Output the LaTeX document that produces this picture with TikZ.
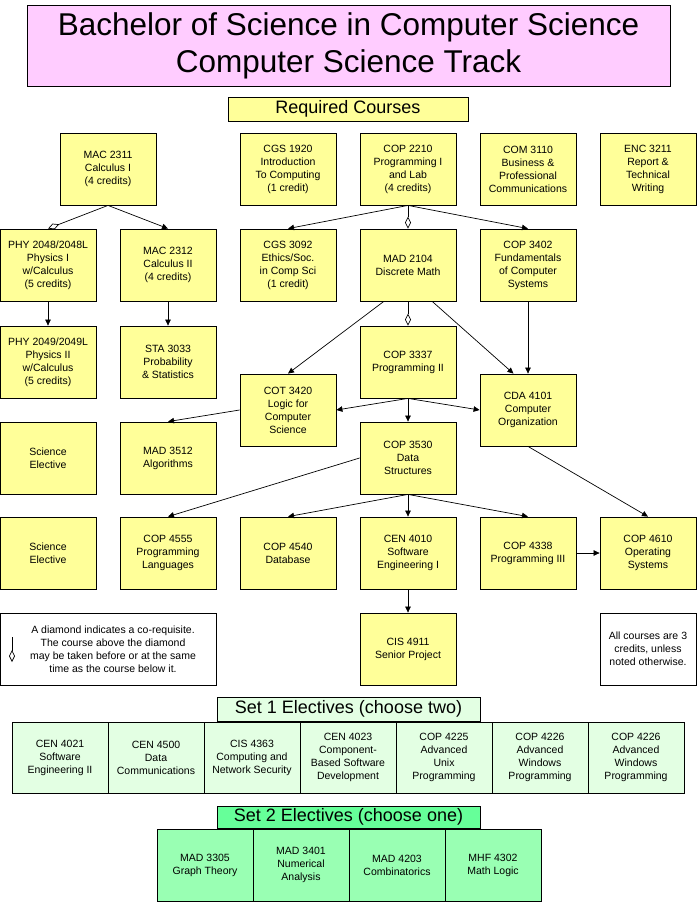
\documentclass[tikz,border=0pt]{standalone}
\usepackage{fontspec}
\setmainfont{Liberation Sans}
\usetikzlibrary{arrows.meta,calc}
\definecolor{titlepink}{HTML}{FFCCFF}
\definecolor{courseyellow}{HTML}{FFFF99}
\definecolor{setonegreen}{HTML}{E3FFE3}
\definecolor{settwogreen}{HTML}{99FFB3}
\definecolor{settwohead}{HTML}{66FF99}
\tikzset{
  course/.style={rectangle, draw=black, line width=0.8pt, fill=courseyellow, minimum width=96pt, minimum height=72pt, inner sep=0pt, align=center, font=\fontsize{10.5}{13}\selectfont},
  notebox/.style={rectangle, draw=black, line width=0.8pt, fill=white, minimum height=72pt, inner sep=0pt, align=center, font=\fontsize{10.5}{13}\selectfont},
  elecone/.style={course, fill=setonegreen, minimum height=71pt},
  electwo/.style={course, fill=settwogreen},
  header/.style={rectangle, draw=black, line width=0.8pt, inner sep=0pt, align=center, font=\fontsize{18}{20}\selectfont},
  prereq/.style={line width=0.7pt, -{Triangle[length=6pt,width=5.5pt]}},
  coreq/.style={line width=0.7pt, -{Diamond[fill=white,length=12pt,width=6pt]}},
}
\begin{document}
\begin{tikzpicture}[x=1pt,y=-1pt]
\useasboundingbox (0,0) rectangle (697,902);
% title
\node[rectangle, draw=black, line width=0.8pt, fill=titlepink, minimum width=643pt, minimum height=81pt, inner sep=0pt, align=center, font=\fontsize{31.5}{37}\selectfont] (title) at (348.5,45.5) {Bachelor of Science in Computer Science\\Computer Science Track};
\node[header, fill=courseyellow, minimum width=240pt, minimum height=24pt] (req) at (348,109) {Required Courses};
% row 1
\node[course] (mac2311) at (108,169) {MAC 2311\\Calculus I\\(4 credits)};
\node[course] (cgs1920) at (288,169) {CGS 1920\\Introduction\\To Computing\\(1 credit)};
\node[course] (cop2210) at (408,169) {COP 2210\\Programming I\\and Lab\\(4 credits)};
\node[course] (com3110) at (528,169) {COM 3110\\Business \&\\Professional\\Communications};
\node[course] (enc3211) at (648,169) {ENC 3211\\Report \&\\Technical\\Writing};
% row 2
\node[course] (phy2048) at (48,265) {PHY 2048/2048L\\Physics I\\w/Calculus\\(5 credits)};
\node[course] (mac2312) at (168,265) {MAC 2312\\Calculus II\\(4 credits)};
\node[course] (cgs3092) at (288,265) {CGS 3092\\Ethics/Soc.\\in Comp Sci\\(1 credit)};
\node[course] (mad2104) at (408,265) {MAD 2104\\Discrete Math};
\node[course] (cop3402) at (528,265) {COP 3402\\Fundamentals\\of Computer\\Systems};
% row 3
\node[course] (phy2049) at (48,362) {PHY 2049/2049L\\Physics II\\w/Calculus\\(5 credits)};
\node[course] (sta3033) at (168,362) {STA 3033\\Probability\\\& Statistics};
\node[course] (cop3337) at (408,362) {COP 3337\\Programming II};
\node[course] (cot3420) at (288,410) {COT 3420\\Logic for\\Computer\\Science};
\node[course] (cda4101) at (528,410) {CDA 4101\\Computer\\Organization};
% row 4
\node[course] (scielecA) at (48,458) {Science\\Elective};
\node[course] (mad3512) at (168,458) {MAD 3512\\Algorithms};
\node[course] (cop3530) at (408,458) {COP 3530\\Data\\Structures};
% row 5
\node[course] (scielecB) at (48,553) {Science\\Elective};
\node[course] (cop4555) at (168,553) {COP 4555\\Programming\\Languages};
\node[course] (cop4540) at (288,553) {COP 4540\\Database};
\node[course] (cen4010) at (408,553) {CEN 4010\\Software\\Engineering I};
\node[course] (cop4338) at (528,553) {COP 4338\\Programming III};
\node[course] (cop4610) at (648,553) {COP 4610\\Operating\\Systems};
% row 6
\node[notebox, minimum width=216pt] (legend) at (108,649) {};
\node[font=\fontsize{10.5}{13}\selectfont, align=center, inner sep=0pt] (legendtext) at (113,649) {A diamond indicates a co-requisite.\\The course above the diamond\\may be taken before or at the same\\time as the course below it.};
\coordinate (lgA) at (12,637);
\coordinate (lgB) at (12,662);
\draw[coreq] (lgA) -- (lgB);
\node[course] (cis4911) at (408,649) {CIS 4911\\Senior Project};
\node[notebox, minimum width=96pt] (allc) at (648,649) {All courses are 3\\credits, unless\\noted otherwise.};
% connectors
\draw[coreq] (mac2311.south) -- (phy2048.north);
\draw[prereq] (mac2311.south) -- (mac2312.north);
\draw[prereq] (cop2210.south) -- (cgs3092.north);
\draw[coreq] (cop2210.south) -- (mad2104.north);
\draw[prereq] (cop2210.south) -- (cop3402.north);
\draw[prereq] (phy2048.south) -- (phy2049.north);
\draw[prereq] (mac2312.south) -- (sta3033.north);
\draw[coreq] (mad2104.south) -- (cop3337.north);
\draw[prereq] ($(mad2104.south west)!0.25!(mad2104.south east)$) -- (cot3420.north);
\draw[prereq] ($(mad2104.south west)!0.75!(mad2104.south east)$) -- ($(cda4101.north west)!0.35!(cda4101.north east)$);
\draw[prereq] (cop3402.south) -- (cda4101.north);
\draw[prereq] (cop3337.south) -- (cot3420.east);
\draw[prereq] (cop3337.south) -- (cda4101.west);
\draw[prereq] (cop3337.south) -- (cop3530.north);
\draw[prereq] (cot3420.west) -- (mad3512.north);
\draw[prereq] (cop3530.west) -- (cop4555.north);
\draw[prereq] (cop3530.south) -- (cop4540.north);
\draw[prereq] (cop3530.south) -- (cen4010.north);
\draw[prereq] (cop3530.south) -- (cop4338.north);
\draw[prereq] (cda4101.south) -- (cop4610.north);
\draw[prereq] (cop4338.east) -- (cop4610.west);
\draw[prereq] (cen4010.south) -- (cis4911.north);
% set 1 electives
\node[header, fill=setonegreen, minimum width=263pt, minimum height=24pt] (setone) at (348.5,709) {Set 1 Electives (choose two)};
\node[elecone] (cen4021) at (60,757.5) {CEN 4021\\Software\\Engineering II};
\node[elecone] (cen4500) at (156,757.5) {CEN 4500\\Data\\Communications};
\node[elecone] (cis4363) at (252,757.5) {CIS 4363\\Computing and\\Network Security};
\node[elecone] (cen4023) at (348,757.5) {CEN 4023\\Component-\\Based Software\\Development};
\node[elecone] (cop4225) at (444,757.5) {COP 4225\\Advanced\\Unix\\Programming};
\node[elecone] (cop4226a) at (540,757.5) {COP 4226\\Advanced\\Windows\\Programming};
\node[elecone] (cop4226b) at (636,757.5) {COP 4226\\Advanced\\Windows\\Programming};
% set 2 electives
\node[header, fill=settwohead, minimum width=263pt, minimum height=22pt] (settwo) at (348.5,817) {Set 2 Electives (choose one)};
\node[electwo] (mad3305) at (205,865) {MAD 3305\\Graph Theory};
\node[electwo] (mad3401) at (301,865) {MAD 3401\\Numerical\\Analysis};
\node[electwo] (mad4203) at (397,865) {MAD 4203\\Combinatorics};
\node[electwo] (mhf4302) at (493,865) {MHF 4302\\Math Logic};
\end{tikzpicture}
\end{document}
